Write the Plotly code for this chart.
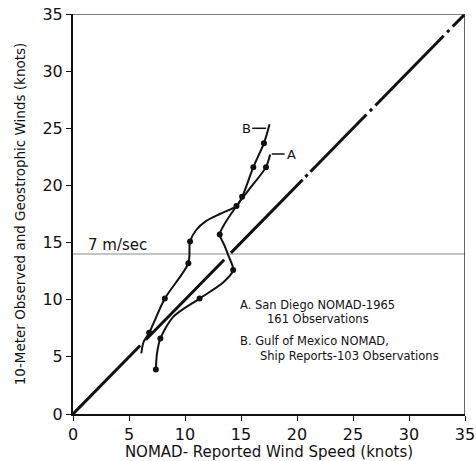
import plotly.graph_objects as go

# ---- data ----
# Curve A: San Diego NOMAD-1965 (161 observations)
curve_a_x = [17.6, 17.23, 15.6, 14.6, 13.4, 13.1, 13.5, 13.9, 14.3, 13.4, 11.3, 8.95, 7.8, 7.5, 7.4]
curve_a_y = [22.7, 21.6, 19.5, 18.2, 16.4, 15.7, 14.8, 13.8, 12.6, 11.5, 10.1, 8.5, 6.6, 5.3, 3.9]
curve_a_marked = [0, 1, 0, 0, 0, 1, 0, 0, 1, 0, 1, 0, 1, 0, 1]

# Curve B: Gulf of Mexico NOMAD, ship reports (103 observations)
curve_b_x = [17.55, 17.05, 16.1, 15.1, 14.6, 13.1, 11.9, 11.0, 10.45, 10.3, 8.2, 6.8, 6.3, 6.1]
curve_b_y = [25.35, 23.7, 21.6, 19.0, 18.2, 17.5, 16.9, 16.1, 15.1, 13.2, 10.1, 7.1, 6.3, 5.3]
curve_b_marked = [0, 1, 1, 1, 1, 0, 0, 0, 1, 1, 1, 1, 0, 0]

# 1:1 reference line pieces (x = y), with small breaks and dots
diag_x = [0, 6.0, None, 6.5, 13.5, None, 14.1, 20.5, None, 20.75, 20.95, None,
          21.2, 26.2, None, 26.5, 26.7, None, 27.0, 33.1, None, 33.4, 33.6, None, 33.9, 35]
diag_y = diag_x

threshold_knots = 14  # 7 m/sec
ticks = [0, 5, 10, 15, 20, 25, 30, 35]

font = "DejaVu Sans"
ink = "#111111"

fig = go.Figure()

fig.add_trace(go.Scatter(x=[0, 35], y=[threshold_knots, threshold_knots], mode="lines",
                         line=dict(color="#8a8a8a", width=1.2), hoverinfo="skip", showlegend=False))

fig.add_trace(go.Scatter(x=diag_x, y=diag_y, mode="lines", connectgaps=False,
                         line=dict(color=ink, width=3), showlegend=False))

for cx, cy, cm in [(curve_a_x, curve_a_y, curve_a_marked), (curve_b_x, curve_b_y, curve_b_marked)]:
    fig.add_trace(go.Scatter(x=cx, y=cy, mode="lines",
                             line=dict(color=ink, width=2, shape="spline", smoothing=0.8),
                             showlegend=False))
    fig.add_trace(go.Scatter(x=[x for x, m in zip(cx, cm) if m], y=[y for y, m in zip(cy, cm) if m],
                             mode="markers", marker=dict(color=ink, size=6), showlegend=False))

# leader dashes for curve labels
fig.add_trace(go.Scatter(x=[16.0, 17.25, None, 17.75, 18.9], y=[25.0, 25.0, None, 22.75, 22.75],
                         mode="lines", line=dict(color=ink, width=1.5), showlegend=False))

ann = []
ann.append(dict(x=15.45, y=25.0, text="B", showarrow=False, xanchor="center", yanchor="middle",
                font=dict(family=font, size=13, color=ink)))
ann.append(dict(x=19.5, y=22.75, text="A", showarrow=False, xanchor="center", yanchor="middle",
                font=dict(family=font, size=13, color=ink)))
ann.append(dict(x=1.2, y=threshold_knots, text="7 m/sec", showarrow=False, xanchor="left", yanchor="bottom",
                yshift=-2, font=dict(family=font, size=15, color=ink)))
legend_lines = [
    (14.7, 9.55, "A. San Diego NOMAD-1965"),
    (17.1, 8.3, "161 Observations"),
    (14.7, 6.35, "B. Gulf of Mexico NOMAD,"),
    (16.5, 5.1, "Ship Reports-103 Observations"),
]
for lx, ly, lt in legend_lines:
    ann.append(dict(x=lx, y=ly, text=lt, showarrow=False, xanchor="left", yanchor="middle",
                    font=dict(family=font, size=11.5, color=ink)))

axis_common = dict(range=[0, 35], tickvals=ticks, ticktext=[str(t) for t in ticks],
                   showgrid=False, zeroline=False, showline=True, linecolor=ink, linewidth=2,
                   ticks="outside", ticklen=5, tickcolor=ink, automargin=False,
                   tickfont=dict(family=font, size=16, color=ink))

fig.update_layout(
    width=476, height=461,
    margin=dict(l=73, r=11, t=14, b=47),
    paper_bgcolor="white", plot_bgcolor="white",
    xaxis=dict(**axis_common,
               title=dict(text="NOMAD- Reported Wind Speed (knots)", standoff=3,
                          font=dict(family=font, size=15, color=ink))),
    yaxis=dict(**axis_common,
               title=dict(text="10-Meter Observed and Geostrophic Winds (knots)", standoff=14,
                          font=dict(family=font, size=13.5, color=ink))),
    annotations=ann,
    shapes=[
        dict(type="line", xref="x", yref="y", x0=0, x1=35, y0=35, y1=35, line=dict(color="#555", width=1.5)),
        dict(type="line", xref="x", yref="y", x0=35, x1=35, y0=0, y1=35, line=dict(color="#333", width=1.5)),
    ],
)

fig.write_html("out.html")
